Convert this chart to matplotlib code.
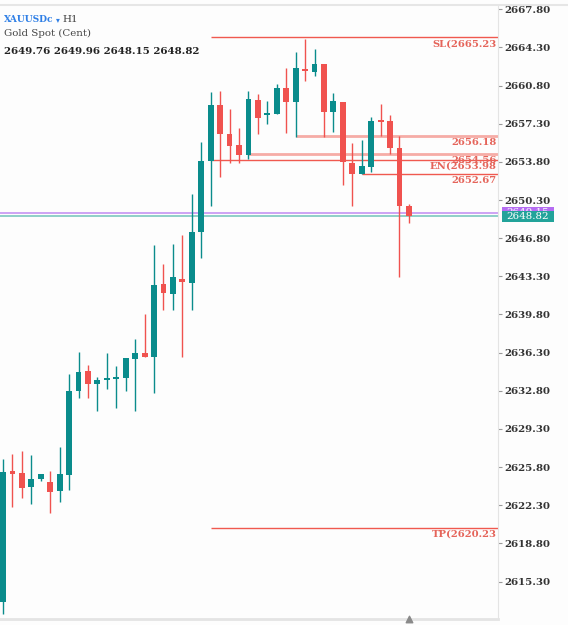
import numpy as np
import matplotlib.pyplot as plt
import matplotlib.transforms as mtransforms
from matplotlib.lines import Line2D
from matplotlib.patches import Rectangle

# H1 candles, XAUUSDc (oldest first)
opens = [2613.42, 2625.43, 2625.25, 2623.97, 2624.70, 2624.42, 2623.60, 2625.07,
         2632.77, 2634.61, 2633.42, 2633.78, 2633.87, 2633.97, 2635.71, 2636.26,
         2635.89, 2642.59, 2641.67, 2643.05, 2642.68, 2647.36, 2653.87, 2659.01,
         2656.35, 2655.34, 2654.42, 2659.47, 2658.09, 2658.19, 2660.57, 2659.29,
         2662.31, 2662.04, 2662.77, 2658.37, 2659.29, 2653.69, 2652.68, 2653.32,
         2657.54, 2657.54, 2655.07, 2649.76]
highs = [2626.53, 2626.99, 2627.27, 2626.90, 2625.16, 2625.43, 2627.64, 2634.33,
         2636.35, 2635.16, 2634.06, 2636.26, 2635.07, 2635.80, 2637.54, 2639.84,
         2646.17, 2644.42, 2646.26, 2647.08, 2650.85, 2655.62, 2660.20, 2660.30,
         2658.64, 2656.90, 2660.30, 2660.02, 2659.38, 2660.94, 2662.41, 2663.87,
         2665.07, 2664.15, 2662.77, 2660.11, 2659.29, 2655.53, 2655.80, 2657.91,
         2659.10, 2658.09, 2656.17, 2649.96]
lows = [2612.31, 2622.13, 2622.96, 2622.41, 2624.52, 2621.58, 2622.59, 2623.69,
        2632.13, 2632.13, 2630.94, 2632.96, 2631.21, 2632.77, 2630.94, 2635.89,
        2632.59, 2640.20, 2640.20, 2635.89, 2640.20, 2644.97, 2649.75, 2652.41,
        2653.69, 2653.69, 2654.06, 2656.35, 2657.27, 2658.19, 2656.44, 2656.08,
        2661.21, 2661.67, 2656.08, 2656.53, 2651.67, 2649.75, 2652.68, 2652.86,
        2656.17, 2654.52, 2643.23, 2648.15]
closes = [2625.34, 2625.16, 2623.87, 2624.70, 2625.16, 2623.51, 2625.16, 2632.77,
          2634.52, 2633.42, 2633.78, 2633.87, 2634.06, 2635.80, 2636.26, 2635.89,
          2642.50, 2641.76, 2643.23, 2642.77, 2647.36, 2653.87, 2659.01, 2656.35,
          2655.25, 2654.42, 2659.56, 2657.82, 2658.28, 2660.57, 2659.29, 2662.41,
          2662.13, 2662.77, 2658.37, 2659.38, 2653.78, 2652.68, 2653.42, 2657.54,
          2657.45, 2655.07, 2649.76, 2648.82]

# order levels drawn on the chart
level_prices = [2665.23, 2656.18, 2654.56, 2653.98, 2652.67, 2620.23]
level_labels = ['SL(2665.23', '2656.18', '2654.56', 'EN(2653.98', '2652.67', 'TP(2620.23']
level_starts = [22, 31, 26, 22, 38, 22]
level_soft = [False, True, True, False, False, False]

ask_price = 2649.15
bid_price = 2648.82
ohlc_text = '2649.76 2649.96 2648.15 2648.82'

price_ticks = [2615.30, 2618.80, 2622.30, 2625.80, 2629.30, 2632.80, 2636.30,
               2639.80, 2643.30, 2646.80, 2650.30, 2653.80, 2657.30, 2660.80,
               2664.30, 2667.80]

TEAL = '#0a8c8c'
RED = '#f0524f'
LINE_RED = '#f0594f'
SOFT_RED = '#f6aca6'
LABEL_RED = '#e5645a'
BG = '#fdfdfd'
SERIF = ['DejaVu Serif', 'DejaVu Sans']

W, H = 568, 625
fig = plt.figure(figsize=(W / 100, H / 100), dpi=100, facecolor=BG)
ax = fig.add_axes([0, 6 / H, 498 / W, 614 / H], facecolor=BG)

ax.set_xlim(-0.32, 52.44)
ax.set_ylim(2611.86, 2668.19)

# candles
x = np.arange(len(opens))
o = np.array(opens)
c = np.array(closes)
cols = np.where(c >= o, TEAL, RED)
ax.vlines(x, lows, highs, colors=cols, lw=1.0, zorder=3)
ax.bar(x, np.maximum(np.abs(c - o), 0.15), bottom=np.minimum(o, c), width=0.62,
       color=cols, linewidth=0, zorder=4)

# bid / ask lines
ax.axhline(ask_price, color='#c99cf4', lw=1.3, zorder=2)
ax.axhline(bid_price, color='#86ccc4', lw=1.3, zorder=2)

# order levels
xr = ax.get_xlim()[1]
for p, lab, s, soft in zip(level_prices, level_labels, level_starts, level_soft):
    ax.hlines(p, s, xr, colors=SOFT_RED if soft else LINE_RED,
              lw=2.0 if soft else 1.0, zorder=2)
    ax.annotate(lab, xy=(1, p), xycoords=('axes fraction', 'data'),
                xytext=(-1, -4.7), textcoords='offset points',
                ha='right', va='center', fontsize=7.2, fontweight='bold',
                family=SERIF, color=LABEL_RED, zorder=6)

# price axis
ax.yaxis.tick_right()
ax.set_yticks(price_ticks)
ax.set_yticklabels([f'{t:.2f}' for t in price_ticks])
ax.tick_params(axis='y', length=3, width=0.8, color='#999999', pad=1.5,
               labelsize=7.4, labelcolor='#333333')
for lbl in ax.get_yticklabels():
    lbl.set_fontweight('bold')
    lbl.set_family(SERIF)
ax.set_xticks([])
for side in ['left', 'top']:
    ax.spines[side].set_visible(False)
ax.spines['right'].set_color('#e4e4e4')
ax.spines['bottom'].set_color('#e4e4e4')
ax.spines['bottom'].set_linewidth(2)

# price boxes on the axis
trans = mtransforms.blended_transform_factory(ax.transAxes, ax.transData)
px_per_unit = 614 / (2668.19 - 2611.86)
box_h = 11 / px_per_unit
box_x = 1 + 3.5 / 498
box_w = 52 / 498
z = 7
for p, fc in [(ask_price, '#b56cf2'), (bid_price, '#22a39a')]:
    ax.add_patch(Rectangle((box_x, p - box_h / 2), box_w, box_h, transform=trans,
                           facecolor=fc, edgecolor='none', clip_on=False, zorder=z))
    ax.text(box_x + box_w / 2, p, f'{p:.2f}', transform=trans, ha='center',
            va='center', color='white', fontsize=7.4, family=SERIF,
            clip_on=False, zorder=z + 1)
    z += 2

# current bar marker
ax.scatter([x[-1]], [0], marker='^', s=22, color='#8a8a8a',
           transform=ax.get_xaxis_transform(), clip_on=False, zorder=8)

# header
fig.add_artist(Line2D([0, 1], [1 - 5 / H, 1 - 5 / H], color='#e6e6e6', lw=1.5))
yh = 1 - 20 / H
fig.text(4 / W, yh, 'XAUUSDc', color='#2f7fe6', fontweight='bold', fontsize=6.6,
         family=SERIF, va='center')
fig.text(55.5 / W, yh, '\u25be', color='#2f7fe6', fontsize=5.5, family=SERIF,
         va='center')
fig.text(62 / W, yh, 'H1', color='#444444', fontsize=7.4, family=SERIF, va='center')
fig.text(4 / W, 1 - 33 / H, 'Gold Spot (Cent)', color='#444444', fontsize=7.4,
         family=SERIF, va='center')
fig.text(4 / W, 1 - 52 / H, ohlc_text, color='#222222', fontweight='bold',
         fontsize=7.4, family=SERIF, va='center')

fig.savefig('out.png', dpi=100, facecolor=BG)
